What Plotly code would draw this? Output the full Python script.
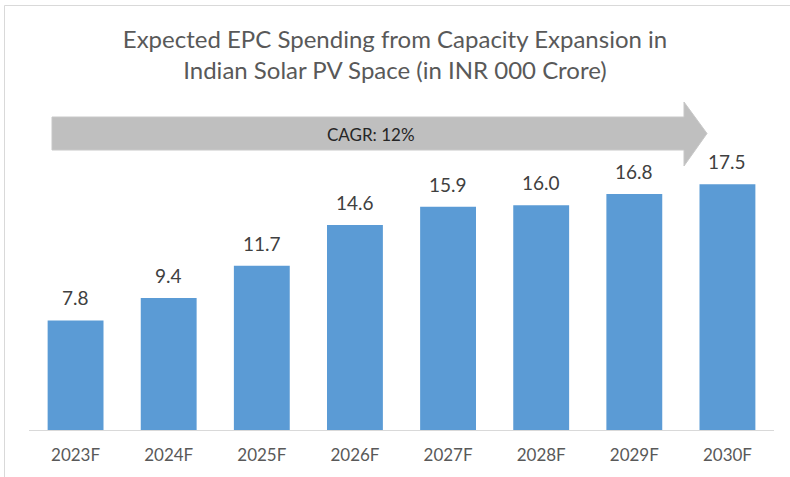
import plotly.graph_objects as go

categories = ["2023F", "2024F", "2025F", "2026F", "2027F", "2028F", "2029F", "2030F"]
values = [7.8, 9.4, 11.7, 14.6, 15.9, 16.0, 16.8, 17.5]
value_labels = ["7.8", "9.4", "11.7", "14.6", "15.9", "16.0", "16.8", "17.5"]
title_text = "Expected EPC Spending from Capacity Expansion in<br>Indian Solar PV Space (in INR 000 Crore)"
cagr_text = "CAGR: 12%"

W, H = 790, 477
L, R, T, B = 29, 16, 100, 47
pw, ph = W - L - R, H - T - B

def px(x):
    return (x - L) / pw

def py(y):
    return (H - B - y) / ph

fig = go.Figure()
fig.add_trace(go.Bar(
    x=categories, y=values,
    marker=dict(color="#5B9BD5", line=dict(width=0)),
    hoverinfo="skip",
))

for c, v, t in zip(categories, values, value_labels):
    fig.add_annotation(x=c, y=v, text=t, showarrow=False, yanchor="bottom",
                       yshift=9, font=dict(family="Lato", size=19, color="#404040"))

# CAGR arrow
arrow = [(52, 117), (684, 117), (684, 102), (707, 133.5), (684, 166), (684, 150), (52, 150)]
path = "M " + " L ".join(f"{px(x):.5f},{py(y):.5f}" for x, y in arrow) + " Z"
fig.add_shape(type="path", path=path, xref="paper", yref="paper",
              fillcolor="#BFBFBF", line=dict(color="#C8C8C8", width=1), layer="below")
fig.add_annotation(x=px(371), y=py(134), xref="paper", yref="paper", text=cagr_text,
                   showarrow=False, xanchor="center", yanchor="middle",
                   font=dict(family="Lato", size=17, color="#262626"))

# chart frame
fig.add_shape(type="rect", xref="paper", yref="paper",
              x0=px(4.5), x1=px(800), y0=py(490), y1=py(5.5),
              line=dict(color="#D9D9D9", width=1), fillcolor="rgba(0,0,0,0)")

fig.update_layout(
    width=W, height=H,
    margin=dict(l=L, r=R, t=T, b=B),
    paper_bgcolor="white", plot_bgcolor="white",
    showlegend=False,
    bargap=0.4,
    title=dict(text=title_text, x=0.5, xref="container", xanchor="center",
               y=1 - 48 / H, yref="container", yanchor="top",
               font=dict(family="Lato", size=24, color="#595959")),
    xaxis=dict(showline=True, linecolor="#D9D9D9", linewidth=1, ticks="",
               ticklabelstandoff=10,
               showgrid=False, tickfont=dict(family="Lato", size=17, color="#595959")),
    yaxis=dict(range=[0, 23.5], visible=False, showgrid=False),
)

fig.write_html("out.html", config={"displayModeBar": False},
               post_script="document.body.style.margin='0';document.body.style.overflow='hidden';")
